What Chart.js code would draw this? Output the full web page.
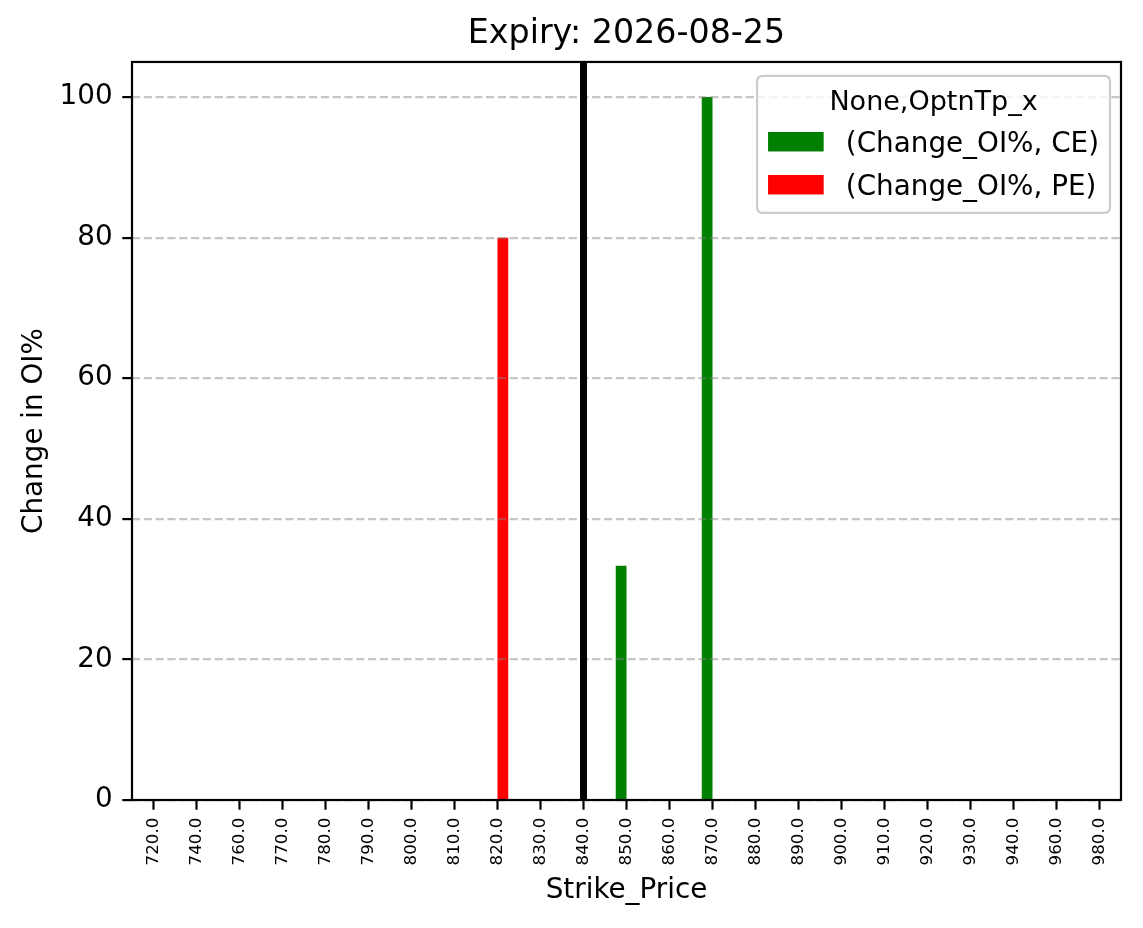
<!DOCTYPE html>
<html>
<head>
<meta charset="utf-8">
<script src="https://cdn.jsdelivr.net/npm/chart.js@4.4.1/dist/chart.umd.min.js"></script>
<style>
  body { margin: 0; background: #fff; }
  canvas { display: block; }
</style>
</head>
<body>
<canvas id="oiChart" width="1143" height="928"></canvas>
<script>
// strike prices on the x axis
const strikes = ['720.0', '740.0', '760.0', '770.0', '780.0', '790.0', '800.0', '810.0', '820.0', '830.0',
    '840.0', '850.0', '860.0', '870.0', '880.0', '890.0', '900.0', '910.0', '920.0', '930.0',
    '940.0', '960.0', '980.0'];

// Change in OI % per strike
const ceChange = [0, 0, 0, 0, 0, 0, 0, 0, 0, 0, 0, 33.33, 0, 100, 0, 0, 0, 0, 0, 0, 0, 0, 0];
const peChange = [0, 0, 0, 0, 0, 0, 0, 0, 80, 0, 0, 0, 0, 0, 0, 0, 0, 0, 0, 0, 0, 0, 0];

const spotStrike = '840.0';
const chartTitle = 'Expiry: 2026-08-25';
const legendTitle = 'None,OptnTp_x';
const seriesLabels = ['(Change_OI%, CE)', '(Change_OI%, PE)'];

const FONT = '"DejaVu Sans", sans-serif';

// black line at the spot strike, drawn on top
const spotLine = {
    id: 'spotLine',
    afterDraw(chart) {
        const { ctx, chartArea } = chart;
        const x = chart.scales.x.getPixelForValue(strikes.indexOf(spotStrike));
        ctx.save();
        ctx.beginPath();
        ctx.moveTo(x, chartArea.top);
        ctx.lineTo(x, chartArea.bottom);
        ctx.lineWidth = 7;
        ctx.strokeStyle = '#000';
        ctx.stroke();
        // axes frame
        ctx.lineWidth = 2.2;
        ctx.strokeRect(chartArea.left, chartArea.top, chartArea.right - chartArea.left, chartArea.bottom - chartArea.top);
        ctx.restore();
    }
};

// matplotlib style legend box inside the plot
const legendBox = {
    id: 'legendBox',
    afterDraw(chart) {
        const { ctx, chartArea } = chart;
        const ds = chart.data.datasets;
        ctx.save();
        ctx.font = '27.8px ' + FONT;
        let tw = Math.max(...ds.map(d => ctx.measureText(d.label).width));
        const w = 11 + 55.6 + 22.2 + tw + 11;
        const h = 137;
        const right = chartArea.right - 11;
        const left = right - w;
        const top = chartArea.top + 14;
        const r = 6;
        ctx.beginPath();
        ctx.moveTo(left + r, top);
        ctx.lineTo(right - r, top);
        ctx.quadraticCurveTo(right, top, right, top + r);
        ctx.lineTo(right, top + h - r);
        ctx.quadraticCurveTo(right, top + h, right - r, top + h);
        ctx.lineTo(left + r, top + h);
        ctx.quadraticCurveTo(left, top + h, left, top + h - r);
        ctx.lineTo(left, top + r);
        ctx.quadraticCurveTo(left, top, left + r, top);
        ctx.closePath();
        ctx.fillStyle = 'rgba(255,255,255,0.8)';
        ctx.fill();
        ctx.lineWidth = 2.2;
        ctx.strokeStyle = '#cccccc';
        ctx.stroke();

        ctx.fillStyle = '#000';
        ctx.textBaseline = 'alphabetic';
        ctx.textAlign = 'center';
        ctx.font = '27px ' + FONT;
        ctx.fillText(legendTitle, (left + right) / 2, top + 34);

        ctx.textAlign = 'left';
        ctx.font = '27.8px ' + FONT;
        ds.forEach((d, i) => {
            const py = top + 56 + i * 43;
            ctx.fillStyle = d.backgroundColor;
            ctx.fillRect(left + 11, py, 55.6, 19.5);
            ctx.fillStyle = '#000';
            ctx.fillText(d.label, left + 11 + 55.6 + 22.2, py + 20);
        });
        ctx.restore();
    }
};

const ctx = document.getElementById('oiChart').getContext('2d');

const myChart = new Chart(ctx, {
    type: 'bar',
    data: {
        labels: strikes,
        datasets: [
            {
                label: seriesLabels[0],
                data: ceChange,
                backgroundColor: '#008000',
                categoryPercentage: 0.5,
                barPercentage: 1.0,
                borderWidth: 0
            },
            {
                label: seriesLabels[1],
                data: peChange,
                backgroundColor: '#ff0000',
                categoryPercentage: 0.5,
                barPercentage: 1.0,
                borderWidth: 0
            }
        ]
    },
    options: {
        responsive: false,
        animation: false,
        devicePixelRatio: 1,
        layout: { padding: { left: 0, right: 22, top: 0, bottom: 0 } },
        plugins: {
            legend: { display: false },
            tooltip: { enabled: false },
            title: {
                display: true,
                text: chartTitle,
                fullSize: false,
                color: '#000',
                font: { family: FONT, size: 33.3, weight: 'normal' },
                padding: { top: 14.5, bottom: 7.5 }
            }
        },
        scales: {
            x: {
                type: 'category',
                offset: true,
                afterFit: (scale) => { scale.height = 128; },
                grid: {
                    offset: false,
                    drawOnChartArea: false,
                    drawTicks: true,
                    tickLength: 9.7,
                    tickWidth: 2.2,
                    tickColor: '#000'
                },
                border: { display: false },
                ticks: {
                    autoSkip: false,
                    minRotation: 90,
                    maxRotation: 90,
                    padding: 8,
                    color: '#000',
                    font: { family: FONT, size: 16.7 }
                },
                title: {
                    display: true,
                    text: 'Strike_Price',
                    color: '#000',
                    font: { family: FONT, size: 27.8 },
                    padding: { top: 0, bottom: 20.9 }
                }
            },
            y: {
                min: 0,
                max: 105,
                afterFit: (scale) => { scale.width = 132; },
                grid: {
                    z: 1,
                    color: 'rgba(128,128,128,0.45)',
                    lineWidth: 2.2,
                    drawTicks: true,
                    tickLength: 9.7,
                    tickWidth: 2.2,
                    tickColor: '#000'
                },
                border: { display: false, dash: [8.2, 3.6] },
                ticks: {
                    stepSize: 20,
                    includeBounds: false,
                    padding: 9.7,
                    color: '#000',
                    font: { family: FONT, size: 27.8 }
                },
                title: {
                    display: true,
                    text: 'Change in OI%',
                    color: '#000',
                    font: { family: FONT, size: 27.8 },
                    padding: { top: 17.7, bottom: 0 }
                }
            }
        }
    },
    plugins: [spotLine, legendBox]
});
</script>
</body>
</html>
